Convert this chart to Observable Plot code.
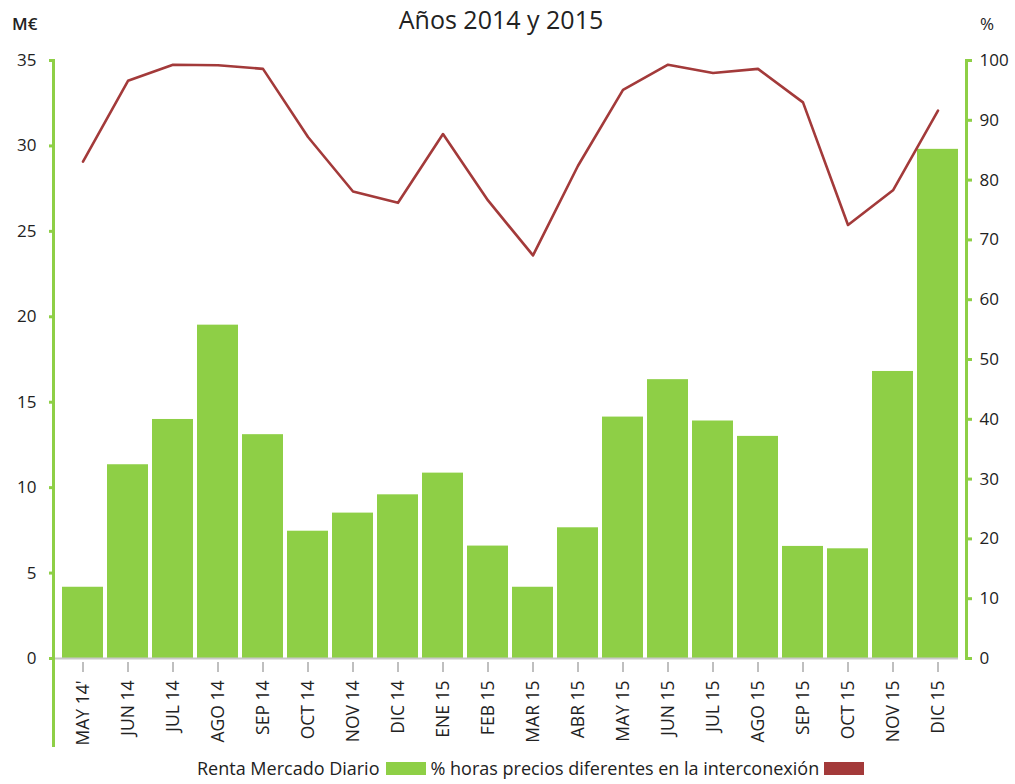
<!DOCTYPE html>
<html><head><meta charset="utf-8">
<script src="https://cdn.jsdelivr.net/npm/d3@7"></script>
<script src="https://cdn.jsdelivr.net/npm/@observablehq/plot@0.6"></script>
<style>
body{margin:0;background:#fff;font-family:"Open Sans",sans-serif;color:#222}
#wrap{position:relative;width:1015px;height:784px;overflow:hidden}
#chart{position:absolute;left:0;top:0}
.title{position:absolute;top:2px;left:0;width:1002px;text-align:center;font-size:25px;color:#222}
.unitL{position:absolute;top:12px;left:12px;font-size:17px;font-weight:600;color:#222}
.unitR{position:absolute;top:12px;left:980px;font-size:17px;color:#222}
#legend{position:absolute;top:756px;left:197px;display:flex;align-items:center;font-size:18px;color:#222;white-space:nowrap}
.sw{display:inline-block;width:40px;height:13px;margin:0 4px 0 7px}
</style></head><body>
<div id="wrap">
<div id="chart"></div>
<div class="title">Años 2014 y 2015</div>
<div class="unitL">M€</div><div class="unitR">%</div>
<div id="legend"><span>Renta Mercado Diario</span><span class="sw" style="background:#8ecf46"></span><span>% horas precios diferentes en la interconexión</span><span class="sw" style="background:#a33a3a;margin-left:5px"></span></div>
</div>
<script>
const meses = ["MAY 14'","JUN 14","JUL 14","AGO 14","SEP 14","OCT 14","NOV 14","DIC 14","ENE 15","FEB 15","MAR 15","ABR 15","MAY 15","JUN 15","JUL 15","AGO 15","SEP 15","OCT 15","NOV 15","DIC 15"];
const renta = [4.17,11.34,13.99,19.51,13.1,7.45,8.51,9.58,10.85,6.58,4.17,7.65,14.13,16.32,13.9,13.0,6.56,6.42,16.8,29.8];
const pctHoras = [83.1,96.6,99.3,99.2,98.6,87.2,78.1,76.2,87.7,76.6,67.4,82.4,95.1,99.3,97.9,98.6,93.0,72.5,78.3,91.6];
const rentaTicks = [0,5,10,15,20,25,30,35];
const pctTicks = [0,10,20,30,40,50,60,70,80,90,100];

const k = 35/100;
const data = meses.map((m,i)=>({mes:m, renta:renta[i], pct:pctHoras[i]}));
const green = "#8ecf46", red = "#a33a3a";

const plot = Plot.plot({
  width:1015, height:755, marginTop:60, marginBottom:97, marginLeft:53, marginRight:49,
  style:{fontFamily:"Open Sans", fontSize:"16px", color:"#222", background:"white"},
  x:{domain:meses, range:[61.7,957.7], paddingInner:0.09, paddingOuter:0, axis:null},
  y:{domain:[0,35], axis:null},
  marks:[
    Plot.barY(data,{x:"mes", y:"renta", fill:green}),
    Plot.ruleY([0],{stroke:"#c8c8c8", strokeWidth:2, insetLeft:2, insetRight:8}),
    Plot.lineY(data,{x:"mes", y:d=>d.pct*k, stroke:red, strokeWidth:2.6}),
    Plot.frame({anchor:"left", stroke:green, strokeWidth:3, insetBottom:-87}),
    Plot.frame({anchor:"right", stroke:green, strokeWidth:3}),
    Plot.axisY({anchor:"left", ticks:rentaTicks, tickSize:4, tickPadding:13, stroke:green, strokeWidth:3, fill:"#222", fontSize:17, label:null}),
    Plot.axisY({anchor:"right", ticks:pctTicks.map(p=>p*k), tickFormat:v=>String(Math.round(v/k)), tickSize:5, tickPadding:8, stroke:green, strokeWidth:3, fill:"#222", fontSize:17, label:null}),
    Plot.axisX({anchor:"bottom", tickRotate:-90, tickSize:10, tickPadding:8, dy:4, stroke:"#aaa", strokeWidth:1.5, fill:"#222", fontSize:17.5, fontWeight:500, label:null})
  ]
});
document.getElementById("chart").appendChild(plot);
</script>
</body></html>
